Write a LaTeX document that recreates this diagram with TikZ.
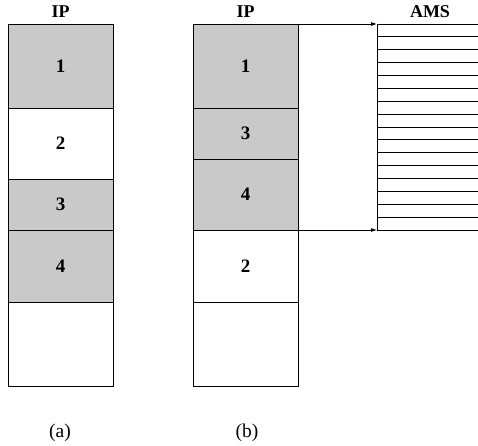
\documentclass[tikz,border=0pt]{standalone}
\usepackage{fontspec}
\setmainfont{Liberation Serif}
\usetikzlibrary{arrows.meta,calc}
\begin{document}
\begin{tikzpicture}[x=1pt,y=-1pt,
  cell/.style={draw, line width=0.8pt, minimum width=105pt, inner sep=0pt, outer sep=0pt, font=\fontsize{19}{21}\selectfont\bfseries},
  shaded/.style={cell, fill=gray!42},
  lab/.style={font=\fontsize{18}{20}\selectfont\bfseries, inner sep=0pt},
  capt/.style={font=\fontsize{19.5}{21}\selectfont, inner sep=0pt},
  arr/.style={-{Latex[length=6pt,width=4pt]}, line width=0.8pt},
  ln/.style={line width=0.8pt}]
\useasboundingbox (0,0) rectangle (478,445);
% column (a)
\node[shaded, minimum height=84pt] (a1) at (60.5,66) {1};
\node[cell,   minimum height=71pt] (a2) at (60.5,143.5) {2};
\node[shaded, minimum height=51pt] (a3) at (60.5,204.5) {3};
\node[shaded, minimum height=72pt] (a4) at (60.5,266) {4};
\node[cell,   minimum height=84pt] (a5) at (60.5,344) {};
% column (b)
\node[shaded, minimum height=84pt] (b1) at (245.5,66) {1};
\node[shaded, minimum height=51pt] (b3) at (245.5,133.5) {3};
\node[shaded, minimum height=71pt] (b4) at (245.5,194.5) {4};
\node[cell,   minimum height=72pt] (b2) at (245.5,266) {2};
\node[cell,   minimum height=84pt] (b5) at (245.5,344) {};
% labels
\node[lab] (ipa) at (60.5,12) {IP};
\node[lab] (ipb) at (245.5,12) {IP};
\node[lab] (ams) at (430,12) {AMS};
\node[capt] (capa) at (60,433) {(a)};
\node[capt] (capb) at (247,433) {(b)};
% AMS block
\coordinate (amsT) at (377,24);
\coordinate (amsB) at (377,230);
\coordinate (amsTR) at (478,24);
\coordinate (amsBR) at (478,230);
\draw[arr] (b1.north east) -- (amsT);
\draw[arr] (b4.south east) -- (amsB);
\draw[ln] (amsT) -- (amsTR);
\draw[ln] (amsB) -- (amsBR);
\draw[ln] (amsT) -- (amsB);
\foreach \i in {1,...,15} {
  \draw[ln] ($(amsT)+(0,\i*12.875)$) -- ($(amsTR)+(0,\i*12.875)$);
}
\end{tikzpicture}
\end{document}
